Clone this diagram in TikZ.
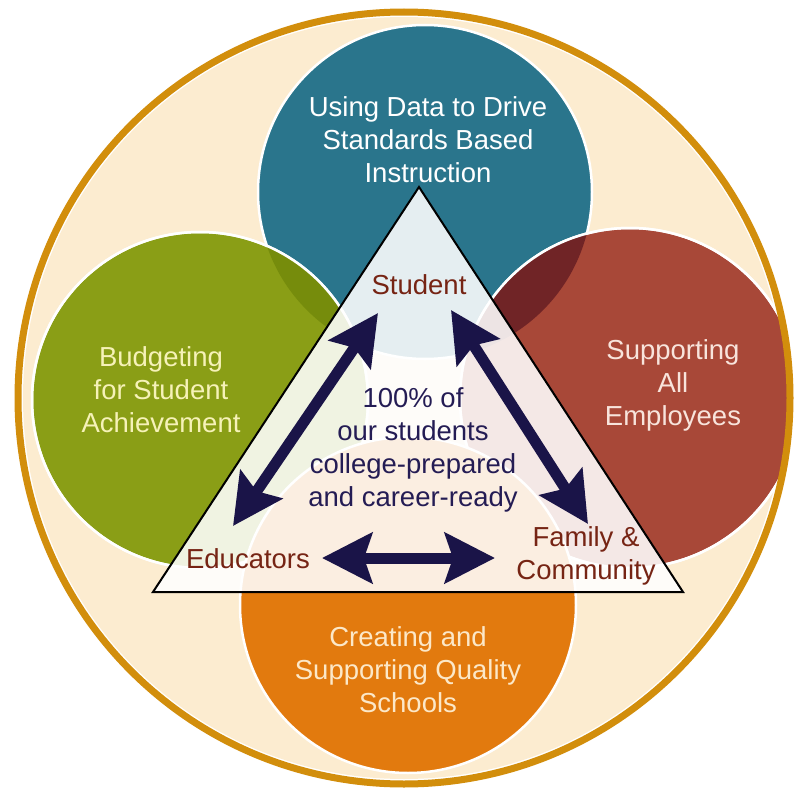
\documentclass[tikz,border=0pt]{standalone}
\usepackage{fontspec}
\setmainfont{Liberation Sans}
\usetikzlibrary{arrows.meta}

\definecolor{ringorange}{RGB}{210,142,12}
\definecolor{creamfill}{RGB}{252,236,208}
\definecolor{tealc}{RGB}{42,117,140}
\definecolor{olivec}{RGB}{138,158,22}
\definecolor{olivedark}{RGB}{118,140,12}
\definecolor{brickc}{RGB}{168,72,56}
\definecolor{brickdark}{RGB}{112,36,38}
\definecolor{orangec}{RGB}{226,122,14}
\definecolor{navyc}{RGB}{26,20,72}
\definecolor{maroonc}{RGB}{118,36,20}
\definecolor{centrec}{RGB}{36,28,84}

\begin{document}
\begin{tikzpicture}[x=1pt,y=1pt,
  rim/.style={draw=white,line width=2.5pt},
  disctext/.style={align=center,font=\fontsize{27.5}{33}\selectfont},
  cornertext/.style={text=maroonc,align=center,font=\fontsize{27.5}{33}\selectfont},
  bigarrow/.style={navyc,line width=11pt,
    {Stealth[length=50pt,width=50pt,inset=8pt]}-{Stealth[length=50pt,width=50pt,inset=8pt]}}]
\useasboundingbox (0,0) rectangle (796,-792);
% outer ring
\coordinate (ringC) at (404,-398);
\fill [creamfill] (ringC) circle (381);
% the four discs
\coordinate (tealC) at (425,-192);
\coordinate (oliveC) at (200,-400);
\coordinate (brickC) at (630,-398);
\coordinate (orangeC) at (408,-605);
\begin{scope}
\clip (ringC) circle (384);
\filldraw [rim,fill=tealc] (tealC) circle (167);
\filldraw [rim,fill=olivec] (oliveC) circle (168);
\begin{scope}
\clip (oliveC) circle (168);
\fill [olivedark] (tealC) circle (167);
\end{scope}
\draw [rim] (oliveC) circle (168);
\filldraw [rim,fill=brickc] (brickC) circle (170);
\begin{scope}
\clip (brickC) circle (170);
\fill [brickdark] (tealC) circle (167);
\end{scope}
\draw [rim] (brickC) circle (170);
\filldraw [rim,fill=orangec] (orangeC) circle (168);
\end{scope}
\draw [ringorange,line width=7pt] (ringC) circle (386);
\node (data) [disctext,text=white] at (428,-140) {Using Data to Drive\\Standards Based\\Instruction};
\node (budget) [disctext,text={rgb,255:red,246;green,242;blue,184}] at (161,-390) {Budgeting\\for Student\\Achievement};
\node (staff) [disctext,text={rgb,255:red,248;green,228;blue,220}] at (673,-385) {Supporting\\All\\Employees};
\node (schools) [disctext,text={rgb,255:red,252;green,232;blue,200}] at (408,-670) {Creating and\\Supporting Quality\\Schools};
% triangle
\draw [black,line width=2pt,fill=white,fill opacity=0.88] (419,-187) -- (153,-592) -- (683,-592) -- cycle;
\node (student) [cornertext] at (419,-285) {Student};
\node (educators) [cornertext] at (248,-559) {Educators};
\node (family) [cornertext] at (586,-556) {Family \&\\Community};
\node (goal) [disctext,text=centrec] at (413,-450) {100\% of\\our students\\college-prepared\\and career-ready};
% arrows
\coordinate (stuA) at (378,-313);
\coordinate (eduA) at (233,-526);
\coordinate (stuB) at (451,-310);
\coordinate (famA) at (588,-524);
\coordinate (eduB) at (322,-558);
\coordinate (famB) at (495,-558);
\draw [bigarrow] (stuA) -- (eduA);
\draw [bigarrow] (stuB) -- (famA);
\draw [bigarrow] (eduB) -- (famB);
\end{tikzpicture}
\end{document}
